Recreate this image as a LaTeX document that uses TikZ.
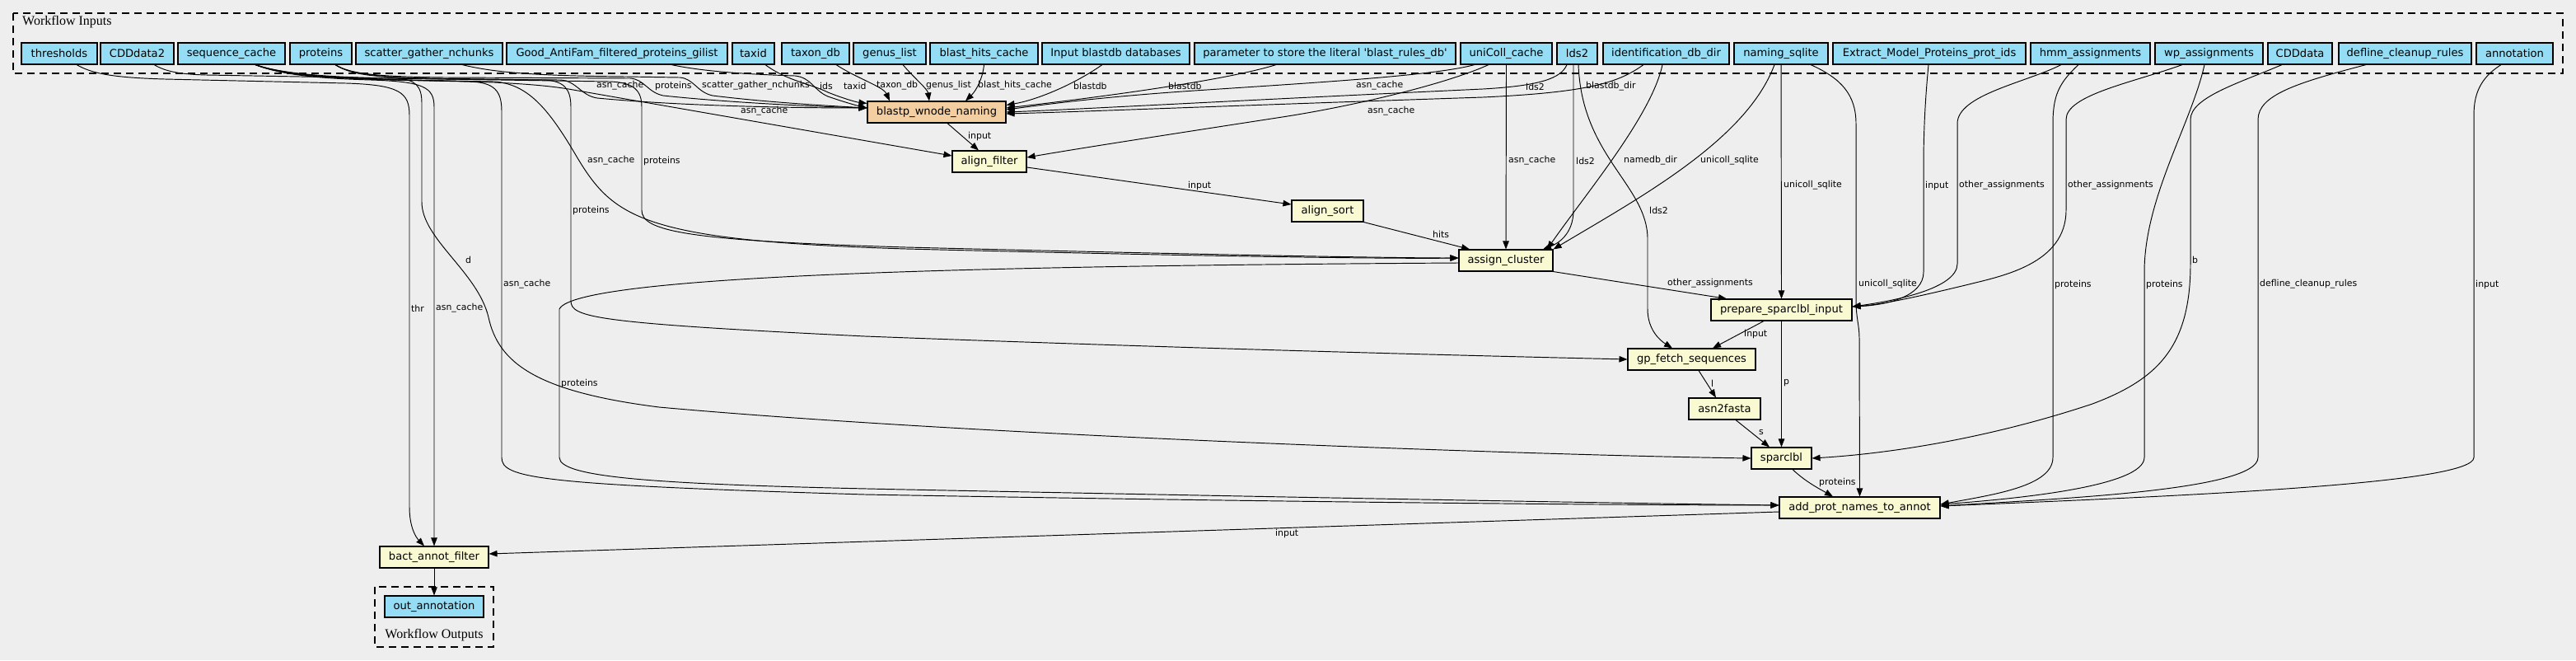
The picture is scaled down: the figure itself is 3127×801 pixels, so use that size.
\documentclass[tikz,border=0pt]{standalone}
\usepackage{fontspec}
\setmainfont{DejaVu Sans}
\newfontfamily\clusterfont{Liberation Serif}
\usetikzlibrary{arrows.meta}
\definecolor{bgc}{HTML}{EEEEEE}
\definecolor{inpblue}{HTML}{94DDF4}
\definecolor{stepyel}{HTML}{FAFAD2}
\definecolor{wforange}{HTML}{F3CEA1}
\newcommand\mynodefont{\fontsize{13.1pt}{15pt}\selectfont}
\newcommand\mylabfont{\fontsize{10.9pt}{13pt}\selectfont}
\newcommand\myclfont{\clusterfont\fontsize{16pt}{18pt}\selectfont}
\begin{document}
\begin{tikzpicture}[x=1pt,y=-1pt,
  inp/.style={draw=black, line width=1.1pt, fill=inpblue, minimum height=26pt, inner sep=0pt, font=\mynodefont},
  stepbox/.style={inp, fill=stepyel},
  wfbox/.style={inp, fill=wforange},
  conn/.style={line width=0.95pt, draw=black, -{Triangle[length=10pt,width=7.5pt]}},
  elab/.style={font=\mylabfont, anchor=west, inner sep=0pt},
  clus/.style={draw=black, line width=1.1pt, dash pattern=on 9pt off 6pt},
  cllab/.style={font=\myclfont, inner sep=0pt},
]
\useasboundingbox (0,0) rectangle (3127,801);
\fill[bgc] (0,0) rectangle (3127,801);

% clusters
\draw[clus] (16,16) rectangle (3111,89);
\node[cllab, anchor=west] (inlab) at (27,27) {Workflow Inputs};
\draw[clus] (455,712) rectangle (599,785);
\node[cllab] (outlab) at (527,771) {Workflow Outputs};

% input nodes
\node[inp, minimum width=92pt]  (thr)     at (72,65)     {thresholds};
\node[inp, minimum width=89pt]  (cddtwo)  at (166.5,65)  {CDDdata2};
\node[inp, minimum width=130pt] (seqc)    at (281,65)    {sequence\_cache};
\node[inp, minimum width=75pt]  (prot)    at (389.5,65)  {proteins};
\node[inp, minimum width=178pt] (sgn)     at (521,65)    {scatter\_gather\_nchunks};
\node[inp, minimum width=268pt] (good)    at (749,65)    {Good\_AntiFam\_filtered\_proteins\_gilist};
\node[inp, minimum width=51pt]  (taxid)   at (914.5,65)  {taxid};
\node[inp, minimum width=82pt]  (taxondb) at (990,65)    {taxon\_db};
\node[inp, minimum width=88pt]  (genus)   at (1080,65)   {genus\_list};
\node[inp, minimum width=131pt] (bhc)     at (1194.5,65) {blast\_hits\_cache};
\node[inp, minimum width=179pt] (ibdb)    at (1354.5,65) {Input blastdb databases};
\node[inp, minimum width=317pt] (param)   at (1608.5,65) {parameter to store the literal \textquotesingle blast\_rules\_db\textquotesingle};
\node[inp, minimum width=111pt] (unicoll) at (1828.5,65) {uniColl\_cache};
\node[inp, minimum width=49pt]  (lds)     at (1914.5,65) {lds2};
\node[inp, minimum width=153pt] (ident)   at (2022.5,65) {identification\_db\_dir};
\node[inp, minimum width=114pt] (naming)  at (2162,65)   {naming\_sqlite};
\node[inp, minimum width=234pt] (extract) at (2342,65)   {Extract\_Model\_Proteins\_prot\_ids};
\node[inp, minimum width=145pt] (hmm)     at (2537.5,65) {hmm\_assignments};
\node[inp, minimum width=131pt] (wp)      at (2681.5,65) {wp\_assignments};
\node[inp, minimum width=78pt]  (cdd)     at (2792,65)   {CDDdata};
\node[inp, minimum width=161pt] (defline) at (2919.5,65) {defline\_cleanup\_rules};
\node[inp, minimum width=93pt]  (annot)   at (3052.5,65) {annotation};

% steps
\node[wfbox, minimum width=168pt]   (blastp)    at (1137,136)   {blastp\_wnode\_naming};
\node[stepbox, minimum width=90pt]  (alignf)    at (1201,196)   {align\_filter};
\node[stepbox, minimum width=87pt]  (aligns)    at (1611.5,256) {align\_sort};
\node[stepbox, minimum width=114pt] (assign)    at (1828,316)   {assign\_cluster};
\node[stepbox, minimum width=171pt] (prepare)   at (2162.5,376) {prepare\_sparclbl\_input};
\node[stepbox, minimum width=155pt] (gpfetch)   at (2053.5,436) {gp\_fetch\_sequences};
\node[stepbox, minimum width=87pt]  (asnfasta)  at (2093.5,496) {asn2fasta};
\node[stepbox, minimum width=73pt]  (sparclbl)  at (2162.5,556) {sparclbl};
\node[stepbox, minimum width=195pt] (addprot)   at (2257.5,616) {add\_prot\_names\_to\_annot};
\node[stepbox, minimum width=132pt] (bact)      at (527,676)    {bact\_annot\_filter};
\node[inp, minimum width=120pt]     (outann)    at (527,736)    {out\_annotation};

% ---------- connectors ----------
\draw[conn] ([xshift=21pt]thr.south) .. controls (110,88) and (130,94) .. (200,96) -- (420,101) .. controls (485,103) and (497,112) .. (497,140) -- (497,615) .. controls (497,640) and (505,652) .. ([xshift=-12pt]bact.north);
\draw[conn] ([xshift=20.5pt]cddtwo.south) .. controls (200,86) and (215,90) .. (250,91) -- (480,95) .. controls (505,96) and (512,105) .. (512,125) -- (512,245) .. controls (512,290) and (580,330) .. (593,385) .. controls (605,440) and (650,475) .. (800,494) .. controls (1200,530) and (1900,553) .. (sparclbl.west);
\draw[conn] ([xshift=29pt]seqc.south) .. controls (340,90) and (380,95) .. (450,97) .. controls (515,99) and (527,106) .. (527,130) -- (bact.north);
\draw[conn] ([xshift=29pt]seqc.south) .. controls (345,92) and (400,96) .. (520,98) -- (570,99) .. controls (600,100) and (609,110) .. (609,135) -- (609,555) .. controls (609,580) and (650,588) .. (1050,600) .. controls (1600,610) and (2000,613) .. ([yshift=3pt]addprot.west);
\draw[conn] ([xshift=17.5pt]prot.south) .. controls (425,90) and (450,94) .. (520,95) -- (660,97) .. controls (685,98) and (693,108) .. (693,130) -- (693,365) .. controls (693,385) and (720,392) .. (1050,408) .. controls (1500,425) and (1850,433) .. (gpfetch.west);
\draw[conn] ([xshift=29pt]seqc.south) .. controls (345,92) and (420,96) .. (540,98) -- (600,99) .. controls (640,102) and (665,130) .. (700,190) .. controls (745,265) and (780,292) .. (1100,302) .. controls (1500,312) and (1700,314) .. ([yshift=3pt]assign.west);
\draw[conn] ([xshift=17.5pt]prot.south) .. controls (425,90) and (460,94) .. (540,96) -- (740,99) .. controls (770,100) and (779,110) .. (779,130) -- (779,255) .. controls (779,280) and (830,292) .. (1100,300) .. controls (1500,310) and (1700,313) .. ([yshift=3pt]assign.west);
\draw[conn] ([xshift=29pt]seqc.south) .. controls (350,92) and (420,95) .. (540,96) -- (680,97) .. controls (700,98) and (705,116) .. (725,119) .. controls (820,128) and (950,131) .. ([yshift=5pt]blastp.west);
\draw[conn] ([xshift=17.5pt]prot.south) .. controls (425,90) and (460,93) .. (540,94) -- (765,95) .. controls (782,96) and (786,112) .. (805,116) .. controls (880,124) and (980,129) .. ([yshift=5pt]blastp.west);
\draw[conn] ([xshift=40pt]sgn.south) .. controls (600,88) and (650,92) .. (760,93) -- (825,94) .. controls (842,95) and (846,112) .. (865,116) .. controls (930,124) and (1000,128) .. ([yshift=5pt]blastp.west);
\draw[conn] ([xshift=66pt]good.south) .. controls (850,86) and (900,90) .. (965,92) .. controls (985,94) and (988,110) .. (1005,117) .. controls (1025,124) and (1040,128) .. ([yshift=5pt]blastp.west);
\draw[conn] ([xshift=14.5pt]taxid.south) .. controls (955,98) and (985,102) .. (1005,112) .. controls (1025,120) and (1040,124) .. ([yshift=-3pt]blastp.north west);
\draw[conn] ([xshift=25pt]taxondb.south) .. controls (1040,95) and (1072,105) .. ([xshift=-57pt]blastp.north);
\draw[conn] ([xshift=16pt]genus.south) .. controls (1110,95) and (1126,108) .. ([xshift=-9pt]blastp.north);
\draw[conn] (bhc.south) .. controls (1193,95) and (1185,110) .. ([xshift=35pt]blastp.north);
\draw[conn] ([xshift=-16.5pt]ibdb.south) .. controls (1300,105) and (1255,122) .. ([yshift=-5pt]blastp.north east);
\draw[conn] ([xshift=-59.5pt]param.south) .. controls (1480,100) and (1300,122) .. ([yshift=5pt]blastp.east);
\draw[conn] ([xshift=-38.5pt]unicoll.south) .. controls (1740,92) and (1600,100) .. (1450,110) .. controls (1330,118) and (1260,128) .. ([yshift=3pt]blastp.east);
\draw[conn] ([xshift=-12.5pt]lds.south) .. controls (1895,95) and (1870,104) .. (1800,108) .. controls (1500,122) and (1300,133) .. (blastp.east);
\draw[conn] ([xshift=-27.5pt]ident.south) .. controls (1965,100) and (1930,112) .. (1800,118) .. controls (1500,128) and (1300,136) .. ([yshift=-2pt]blastp.east);
\draw[conn] ([xshift=13pt]blastp.south) -- ([xshift=-13pt]alignf.north);
\draw[conn] ([xshift=29pt]seqc.south) .. controls (350,92) and (420,96) .. (540,98) -- (600,100) .. controls (640,102) and (665,104) .. (690,108) -- ([yshift=7pt]alignf.west);
\draw[conn] ([xshift=-21.5pt]unicoll.south) .. controls (1760,100) and (1650,128) .. (1550,143) .. controls (1420,163) and (1310,180) .. ([yshift=5pt]alignf.east);
\draw[conn] (unicoll.south) -- (assign.north);
\draw[conn] ([xshift=-4.5pt]lds.south) -- (1910,255) .. controls (1910,285) and (1890,296) .. ([xshift=45pt]assign.north);
\draw[conn] ([xshift=1.5pt]lds.south) .. controls (1920,190) and (2000,225) .. (2000,290) -- (2000,375) .. controls (2000,400) and (2015,413) .. ([xshift=-23.5pt]gpfetch.north);
\draw[conn] ([xshift=-4.5pt]ident.south) .. controls (2005,140) and (1925,235) .. ([xshift=50pt]assign.north);
\draw[conn] ([xshift=-8pt]naming.south) .. controls (2120,170) and (1990,240) .. (assign.north east);
\draw[conn] (naming.south) -- (prepare.north);
\draw[conn] ([xshift=36pt]naming.south) .. controls (2235,95) and (2253,115) .. (2253,150) -- (2253,365) .. controls (2253,385) and (2257,395) .. (2257,410) -- (addprot.north);
\draw[conn] ([yshift=-7pt]alignf.east) -- ([yshift=8pt]aligns.west);
\draw[conn] (aligns.south east) -- ([xshift=-44pt]assign.north);
\draw[conn] (assign.south east) -- ([xshift=-66.5pt]prepare.north);
\draw[conn] ([xshift=-1pt]extract.south) .. controls (2337,120) and (2335,160) .. (2335,200) -- (2335,330) .. controls (2335,360) and (2290,370) .. ([yshift=4pt]prepare.east);
\draw[conn] ([xshift=-35.5pt]hmm.south) .. controls (2460,100) and (2376,115) .. (2376,150) -- (2376,320) .. controls (2376,350) and (2300,365) .. ([yshift=4pt]prepare.east);
\draw[conn] ([xshift=-32.5pt]wp.south) .. controls (2590,100) and (2508,115) .. (2508,145) -- (2508,255) .. controls (2508,320) and (2430,335) .. (2390,345) .. controls (2320,362) and (2280,370) .. ([yshift=4pt]prepare.east);
\draw[conn] ([xshift=-21.5pt]prepare.south) -- ([xshift=25.5pt]gpfetch.north);
\draw[conn] (prepare.south) -- (sparclbl.north);
\draw[conn] ([xshift=8.5pt]gpfetch.south) -- ([xshift=-10.5pt]asnfasta.north);
\draw[conn] ([xshift=13.5pt]asnfasta.south) -- ([xshift=-14.5pt]sparclbl.north);
\draw[conn] ([xshift=13.5pt]sparclbl.south) .. controls (2192,585) and (2212,595) .. ([xshift=-32.5pt]addprot.north);
\draw[conn] ([xshift=-22pt]cdd.south) .. controls (2720,100) and (2659,118) .. (2659,145) -- (2659,320) .. controls (2659,420) and (2620,460) .. (2540,490) .. controls (2420,530) and (2300,550) .. (sparclbl.east);
\draw[conn] ([xshift=-14.5pt]hmm.south) .. controls (2500,100) and (2492,115) .. (2492,150) -- (2492,555) .. controls (2492,590) and (2420,600) .. ([yshift=4pt]addprot.east);
\draw[conn] ([xshift=-5.5pt]wp.south) .. controls (2660,150) and (2603,240) .. (2603,330) -- (2603,555) .. controls (2603,590) and (2450,605) .. ([yshift=4pt]addprot.east);
\draw[conn] ([xshift=-47.5pt]defline.south) .. controls (2790,100) and (2741,115) .. (2741,145) -- (2741,555) .. controls (2741,595) and (2500,605) .. ([yshift=2pt]addprot.east);
\draw[conn] ([xshift=-16.5pt]annot.south) .. controls (3010,95) and (3003,115) .. (3003,140) -- (3003,555) .. controls (3003,585) and (2700,600) .. ([yshift=2pt]addprot.east);
\draw[conn] ([yshift=-3pt]assign.west) .. controls (1300,322) and (700,330) .. (679,375) -- (679,555) .. controls (679,580) and (800,588) .. (1100,594) .. controls (1700,606) and (2000,611) .. ([yshift=3pt]addprot.west);
\draw[conn] ([yshift=-5pt]addprot.west) -- ([yshift=4pt]bact.east);
\draw[conn] (bact.south) -- (outann.north);

% ---------- edge labels ----------
\node[elab] (la1)  at (724,104)  {asn\_cache};
\node[elab] (la2)  at (795,104)  {proteins};
\node[elab] (la3)  at (852,104)  {scatter\_gather\_nchunks};
\node[elab] (la4)  at (995,104)  {ids};
\node[elab] (la5)  at (1024,104) {taxid};
\node[elab] (la6)  at (1064,104) {taxon\_db};
\node[elab] (la7)  at (1124,104) {genus\_list};
\node[elab] (la8)  at (1187,104) {blast\_hits\_cache};
\node[elab] (la9)  at (1303,104) {blastdb};
\node[elab] (la10) at (1418,104) {blastdb};
\node[elab] (la11) at (1646,104) {asn\_cache};
\node[elab] (la12) at (1852,105) {lds2};
\node[elab] (la13) at (1925,105) {blastdb\_dir};
\node[elab] (la14) at (899,135)  {asn\_cache};
\node[elab] (la15) at (1660,135) {asn\_cache};
\node[elab] (la16) at (1175,165) {input};
\node[elab] (la17) at (713,195)  {asn\_cache};
\node[elab] (la18) at (781,195)  {proteins};
\node[elab] (la19) at (1831,195) {asn\_cache};
\node[elab] (la20) at (1913,195) {lds2};
\node[elab] (la21) at (1971,195) {namedb\_dir};
\node[elab] (la22) at (2064,195) {unicoll\_sqlite};
\node[elab] (la23) at (1442,225) {input};
\node[elab] (la24) at (2165,225) {unicoll\_sqlite};
\node[elab] (la25) at (2337,225) {input};
\node[elab] (la26) at (2378,225) {other\_assignments};
\node[elab] (la27) at (2510,225) {other\_assignments};
\node[elab] (la28) at (695,255)  {proteins};
\node[elab] (la29) at (2002,255) {lds2};
\node[elab] (la30) at (1739,284) {hits};
\node[elab] (la31) at (565,315)  {d};
\node[elab] (la32) at (2661,315) {b};
\node[elab] (la33) at (611,345)  {asn\_cache};
\node[elab] (la34) at (2024,344) {other\_assignments};
\node[elab] (la35) at (2256,345) {unicoll\_sqlite};
\node[elab] (la36) at (2494,345) {proteins};
\node[elab] (la37) at (2605,345) {proteins};
\node[elab] (la38) at (2743,345) {defline\_cleanup\_rules};
\node[elab] (la39) at (3005,345) {input};
\node[elab] (la40) at (499,374)  {thr};
\node[elab] (la41) at (529,374)  {asn\_cache};
\node[elab] (la42) at (2117,405) {input};
\node[elab] (la43) at (681,465)  {proteins};
\node[elab] (la44) at (2077,465) {l};
\node[elab] (la45) at (2165,465) {p};
\node[elab] (la46) at (2135,525) {s};
\node[elab] (la47) at (2208,585) {proteins};
\node[elab] (la48) at (1548,647) {input};
\end{tikzpicture}
\end{document}
